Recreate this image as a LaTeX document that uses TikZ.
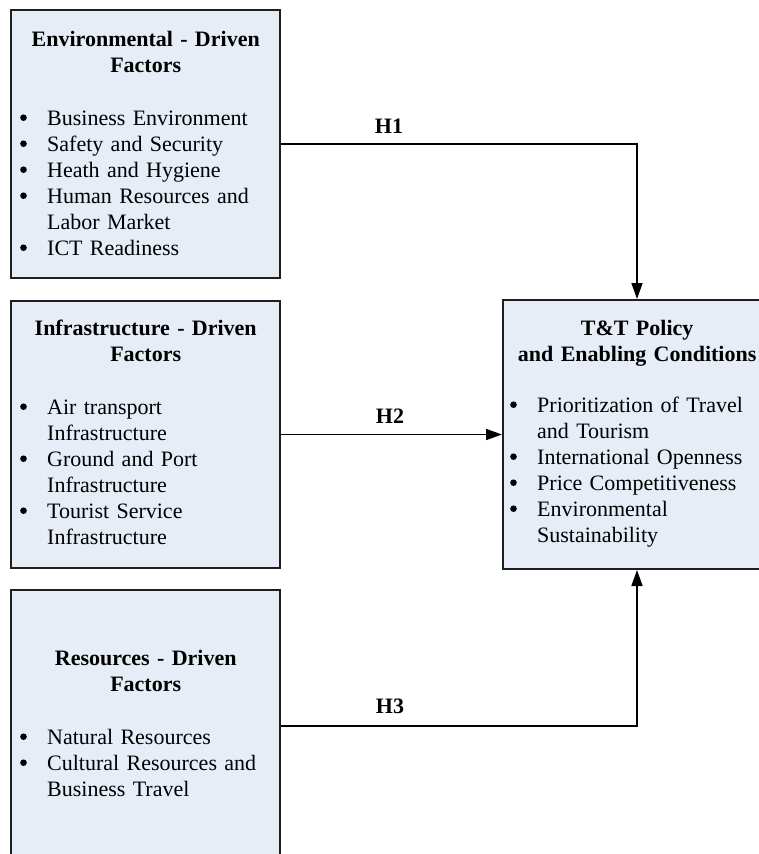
\documentclass[tikz,border=0pt]{standalone}
\usepackage{fontspec}
\setmainfont{Liberation Serif}
\usetikzlibrary{arrows.meta}
\definecolor{boxfill}{RGB}{230,237,247}
\definecolor{boxline}{RGB}{30,30,30}
\newcommand\bul{\makebox[27pt][l]{\tikz[baseline=0pt,x=1pt,y=1pt]\fill (3.5,7.5) circle (3.3);}}
\newcommand\ind{\hspace*{27pt}}
\newcommand\ttl[1]{\makebox[\linewidth][c]{\bfseries #1}}
\newcommand\fst{\noindent\rule{0pt}{20pt}}
\begin{document}
\begin{tikzpicture}[x=1pt,y=-1pt,
  box/.style={draw=boxline,fill=boxfill,line width=2pt,inner sep=0pt,minimum width=269pt},
  txt/.style={anchor=north west,inner sep=0pt,align=left,font=\fontsize{22}{26}\selectfont},
  lbl/.style={anchor=base,inner sep=0pt,font=\fontsize{22}{26}\selectfont\bfseries},
  arr/.style={line width=1.6pt,-{Triangle[length=16pt,width=11pt]}}]
\useasboundingbox (0,0) rectangle (759,854);
\clip (0,0) rectangle (759,854);
\node[box,minimum height=268pt] (box1) at (145.5,144) {};
\node[box,minimum height=267pt] (box2) at (145.5,434.5) {};
\node[box,minimum height=272pt] (box3) at (145.5,726) {};
\node[box,minimum width=268pt,minimum height=269pt] (rbox) at (637,434.5) {};
\node[txt,text width=251pt] (t1) at (20,26) {\fst\ttl{Environmental - Driven}\\
\ttl{Factors}\\[27pt]
\bul Business Environment\\
\bul Safety and Security\\
\bul Heath and Hygiene\\
\bul Human Resources and\\
\ind Labor Market\\
\bul ICT Readiness};
\node[txt,text width=251pt] (t2) at (20,315) {\fst\ttl{Infrastructure - Driven}\\
\ttl{Factors}\\[27pt]
\bul Air transport\\
\ind Infrastructure\\
\bul Ground and Port\\
\ind Infrastructure\\
\bul Tourist Service\\
\ind Infrastructure};
\node[txt,text width=251pt] (t3) at (20,645) {\fst\ttl{Resources - Driven}\\
\ttl{Factors}\\[27pt]
\bul Natural Resources\\
\bul Cultural Resources and\\
\ind Business Travel};
\node[txt,text width=254pt] (t4) at (510,315) {\fst\ttl{T\&T Policy}\\
\ttl{and Enabling Conditions}\\[25pt]
\bul Prioritization of Travel\\
\ind and Tourism\\
\bul International Openness\\
\bul Price Competitiveness\\
\bul Environmental\\
\ind Sustainability};
\draw[arr] (box1.east) -| (rbox.north);
\draw[arr] (box2.east) -- (rbox.west);
\draw[arr] (box3.east) -| (rbox.south);
\node[lbl] (h1) at (389,133) {H1};
\node[lbl] (h2) at (390,423) {H2};
\node[lbl] (h3) at (390,713) {H3};
\end{tikzpicture}
\end{document}
